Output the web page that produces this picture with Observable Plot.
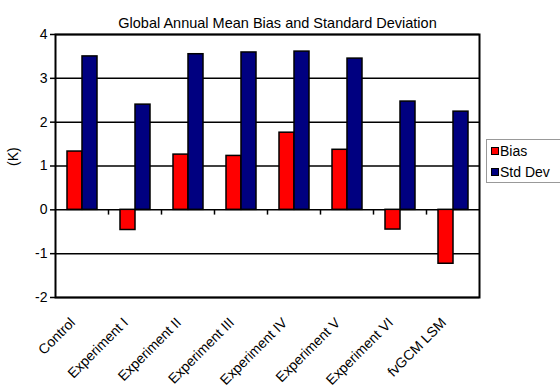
<!DOCTYPE html>
<html>
<head>
<meta charset="utf-8">
<script src="https://cdn.jsdelivr.net/npm/d3@7"></script>
<script src="https://cdn.jsdelivr.net/npm/@observablehq/plot@0.6"></script>
<style>
  html, body { margin: 0; padding: 0; background: #fff; }
  #chart { position: relative; width: 560px; height: 387px; overflow: hidden;
           font-family: "Liberation Sans", Arial, Helvetica, sans-serif; }
  #legend { position: absolute; left: 486px; top: 139px; width: 90px; height: 44px;
            border: 1px solid #999; background: #fff; box-sizing: border-box;
            font-size: 14px; color: #000; }
  #legend .row { position: absolute; left: 4px; display: flex; align-items: center; white-space: nowrap; }
  #legend .sw { width: 6px; height: 6px; border: 1px solid #000; margin-right: 1px; }
</style>
</head>
<body>
<div id="chart"></div>
<script>
// Model runs compared
const runs = ["Control", "Experiment I", "Experiment II", "Experiment III",
              "Experiment IV", "Experiment V", "Experiment VI", "fvGCM LSM"];
// Global annual mean bias (K)
const bias = [1.33, -0.46, 1.26, 1.23, 1.76, 1.37, -0.45, -1.23];
// Global annual standard deviation (K)
const stdDev = [3.50, 2.40, 3.55, 3.59, 3.61, 3.45, 2.47, 2.24];
// Y axis ticks
const yTicks = [-2, -1, 0, 1, 2, 3, 4];
// Series names and colours
const seriesNames = ["Bias", "Std Dev"];
const seriesColors = ["#ff0000", "#000080"];
const title = "Global Annual Mean Bias and Standard Deviation";
const yLabel = "(K)";

const rows = runs.map((name, i) => ({name, bias: bias[i], std: stdDev[i]}));
const font = "Liberation Sans, Arial, Helvetica, sans-serif";

const chart = Plot.plot({
  width: 560,
  height: 387,
  marginLeft: 55,
  marginRight: 81,
  marginTop: 34,
  marginBottom: 90,
  style: {fontFamily: font, fontSize: "14px", color: "#000", background: "#fff"},
  x: {domain: runs, padding: 0, axis: null},
  y: {domain: [-2, 4], axis: null},
  marks: [
    // horizontal gridlines
    Plot.ruleY(yTicks, {stroke: "#000", strokeWidth: 1.5}),
    // bias bars (left of each pair)
    Plot.barY(rows, {x: "name", y: "bias", fill: seriesColors[0], stroke: "#000",
      strokeWidth: 1.5, insetLeft: 12, insetRight: 26}),
    // standard deviation bars (right of each pair)
    Plot.barY(rows, {x: "name", y: "std", fill: seriesColors[1], stroke: "#000",
      strokeWidth: 1.5, insetLeft: 27, insetRight: 11}),
    // category separator ticks on the zero line
    Plot.ruleX(runs.slice(1), {x: d => d, dx: -26.5, y1: 0, y2: -0.12, stroke: "#000", strokeWidth: 1.5}),
    Plot.frame({stroke: "#000", strokeWidth: 2}),
    Plot.axisY(yTicks, {tickSize: 5, tickPadding: 3, strokeWidth: 1.5, label: null,
      fontSize: 14, tickFormat: d => String(d)}),
    // slanted category labels
    Plot.text(runs, {x: d => d, frameAnchor: "bottom", rotate: -45, textAnchor: "end",
      lineAnchor: "top", dx: -13, dy: 19, fontSize: 14}),
    Plot.text([yLabel], {frameAnchor: "left", dx: -42, rotate: -90, fontSize: 14}),
    Plot.text([title], {frameAnchor: "top", dx: 10, dy: -17, fontSize: 14.5})
  ]
});

const host = document.getElementById("chart");
host.appendChild(chart);

// legend
const legend = document.createElement("div");
legend.id = "legend";
seriesNames.forEach((name, i) => {
  const row = document.createElement("div");
  row.className = "row";
  row.style.top = (i === 0 ? 3 : 24) + "px";
  const sw = document.createElement("div");
  sw.className = "sw";
  sw.style.background = seriesColors[i];
  const label = document.createElement("span");
  label.textContent = name;
  row.appendChild(sw);
  row.appendChild(label);
  legend.appendChild(row);
});
host.appendChild(legend);
</script>
</body>
</html>
